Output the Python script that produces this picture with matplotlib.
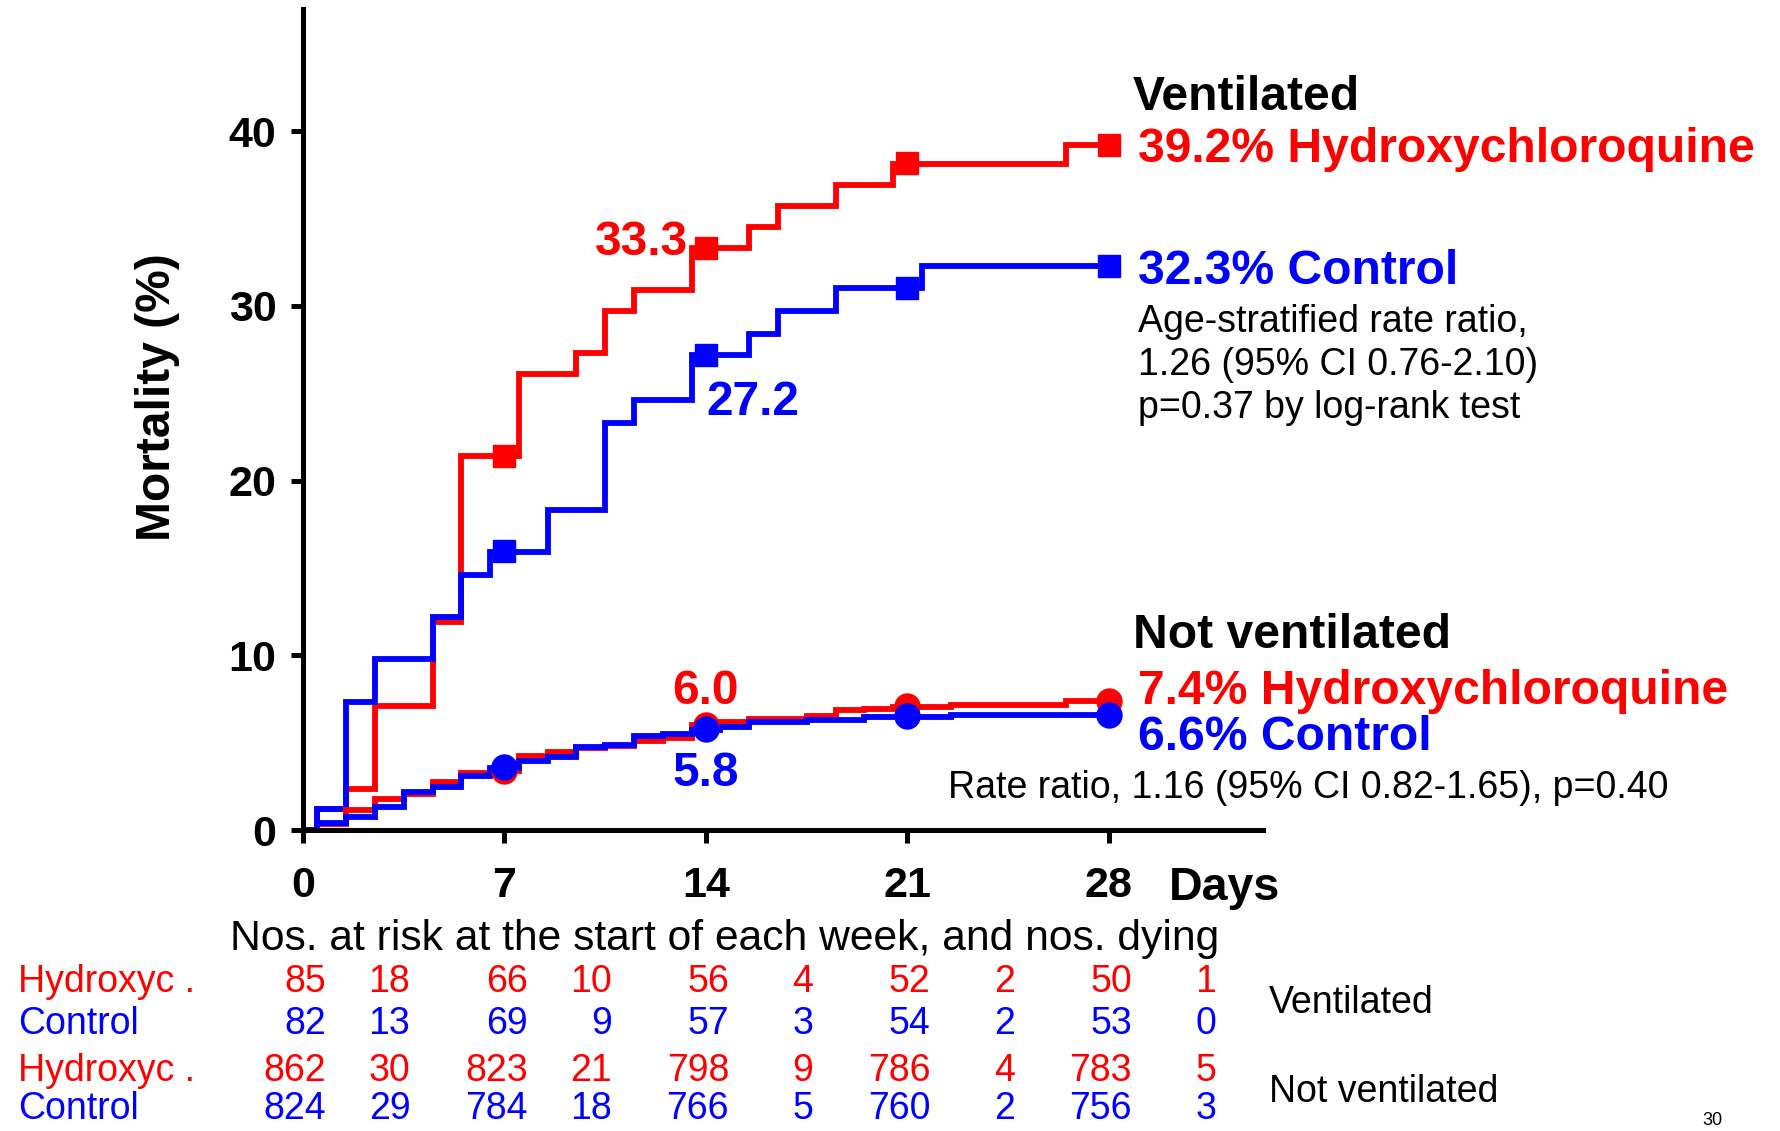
import matplotlib
matplotlib.use('Agg')
from matplotlib import pyplot as plt
from matplotlib import transforms
import numpy as np

plt.rcParams['font.family'] = ['Liberation Sans', 'DejaVu Sans']

RED = '#ff0000'
BLUE = '#0000ff'

# Kaplan-Meier style step curves (days, cumulative mortality %)
vent_hcq_t = [0, 0.5, 1.5, 2.5, 4.5, 5.5, 7.5, 9.5, 10.5, 11.5, 13.5, 15.5, 16.5, 18.5, 20.5, 26.5, 28]
vent_hcq_y = [0, 1.2, 2.35, 7.1, 11.9, 21.4, 26.1, 27.3, 29.7, 30.9, 33.3, 34.5, 35.7, 36.9, 38.1, 39.2, 39.2]
vent_ctl_t = [0, 0.5, 1.5, 2.5, 4.5, 5.5, 6.5, 8.5, 10.5, 11.5, 13.5, 15.5, 16.5, 18.5, 21.5, 28]
vent_ctl_y = [0, 1.2, 7.3, 9.8, 12.2, 14.6, 15.9, 18.3, 23.3, 24.6, 27.2, 28.4, 29.7, 31.0, 32.3, 32.3]
nvent_hcq_t = [0, 0.5, 1.5, 2.5, 3.5, 4.5, 5.5, 6.5, 7.5, 8.5, 9.5, 10.5, 11.5, 12.5, 13.5, 14.5,
               15.5, 17.5, 18.5, 19.5, 20.5, 22.5, 26.5, 28]
nvent_hcq_y = [0, 0.35, 1.15, 1.78, 2.05, 2.74, 3.26, 3.39, 4.21, 4.46, 4.69, 4.79, 5.08, 5.27, 6.03, 6.17,
               6.38, 6.51, 6.85, 6.95, 7.05, 7.15, 7.4, 7.4]
nvent_ctl_t = [0, 0.5, 1.5, 2.5, 3.5, 4.5, 5.5, 6.5, 7.5, 8.5, 9.5, 10.5, 11.5, 12.5, 13.5, 14.5,
               15.5, 17.5, 19.5, 22.5, 28]
nvent_ctl_y = [0, 0.38, 0.77, 1.34, 2.2, 2.49, 3.1, 3.54, 3.93, 4.16, 4.73, 4.89, 5.36, 5.52, 5.75, 5.9,
               6.17, 6.3, 6.45, 6.6, 6.6]

# weekly markers
weeks = [7, 14, 21, 28]
vent_hcq_m = [21.4, 33.3, 38.2, 39.2]
vent_ctl_m = [16.0, 27.2, 31.0, 32.3]
nvent_hcq_m = [3.4, 6.0, 7.1, 7.4]
nvent_ctl_m = [3.6, 5.8, 6.5, 6.6]

# numbers at risk / dying
week_start = [0, 7, 14, 21, 28]
vent_hcq_risk = [85, 66, 56, 52, 50]
vent_hcq_dead = [18, 10, 4, 2, 1]
vent_ctl_risk = [82, 69, 57, 54, 53]
vent_ctl_dead = [13, 9, 3, 2, 0]
nvent_hcq_risk = [862, 823, 798, 786, 783]
nvent_hcq_dead = [30, 21, 9, 4, 5]
nvent_ctl_risk = [824, 784, 766, 760, 756]
nvent_ctl_dead = [29, 18, 5, 2, 3]

W, H = 1780, 1131
fig = plt.figure(figsize=(W / 100, H / 100), dpi=100)
ax = fig.add_axes([303 / W, 1 - 830 / H, (1263 - 303) / W, (830 - 9) / H])


def fx(px):
	return px / W


def fy(py):
	# small shift so that va='center' sits like the reference glyphs
	return 1 - (py + 4) / H


lw = 4.2
ax.step(vent_hcq_t, vent_hcq_y, where='post', color=RED, lw=lw, solid_joinstyle='miter')
ax.step(vent_ctl_t, vent_ctl_y, where='post', color=BLUE, lw=lw, solid_joinstyle='miter')
ax.step(nvent_hcq_t, nvent_hcq_y, where='post', color=RED, lw=lw, solid_joinstyle='miter')
ax.step(nvent_ctl_t, nvent_ctl_y, where='post', color=BLUE, lw=lw, solid_joinstyle='miter')
ax.plot(weeks, vent_hcq_m, 's', color=RED, ms=16)
ax.plot(weeks, vent_ctl_m, 's', color=BLUE, ms=16)
ax.plot(weeks, nvent_hcq_m, 'o', color=RED, ms=18)
ax.plot(weeks, nvent_ctl_m, 'o', color=BLUE, ms=18)

ax.set_xlim(0, 33.35)
ax.set_ylim(0, 47)
for s in ['top', 'right']:
	ax.spines[s].set_visible(False)
for s in ['left', 'bottom']:
	ax.spines[s].set_linewidth(3.6)
ax.set_xticks([0, 7, 14, 21, 28])
ax.set_yticks([0, 10, 20, 30, 40])
ax.tick_params(axis='both', length=9, width=3.6, labelsize=31)
ax.tick_params(axis='x', pad=17)
ax.tick_params(axis='y', pad=10)
for lab in ax.get_xticklabels() + ax.get_yticklabels():
	lab.set_fontweight('bold')

fig.text(fx(157), fy(393), 'Mortality (%)', rotation=90, fontsize=34.5, fontweight='bold',
	ha='center', va='center')
fig.text(fx(1169), fy(884), 'Days', fontsize=33.5, fontweight='bold', ha='left', va='center')

# point labels at day 14
ax.annotate('33.3', (14, vent_hcq_m[1]), xytext=(-13, 4), textcoords='offset points',
	color=RED, fontsize=34.5, fontweight='bold', ha='right', va='center')
ax.annotate('27.2', (14, vent_ctl_m[1]), xytext=(0, -34), textcoords='offset points',
	color=BLUE, fontsize=34.5, fontweight='bold', ha='left', va='center')
ax.annotate('6.0', (14, nvent_hcq_m[1]), xytext=(0, 24), textcoords='offset points',
	color=RED, fontsize=34.5, fontweight='bold', ha='center', va='center')
ax.annotate('5.8', (14, nvent_ctl_m[1]), xytext=(0, -32), textcoords='offset points',
	color=BLUE, fontsize=34.5, fontweight='bold', ha='center', va='center')

# right-hand annotations
big = dict(fontsize=34.6, fontweight='bold', ha='left', va='center')
fig.text(fx(1133), fy(93), 'Ventilated', color='black', **big)
fig.text(fx(1138), fy(145), '39.2% Hydroxychloroquine', color=RED, **big)
fig.text(fx(1138), fy(268), '32.3% Control', color=BLUE, **big)
small = dict(fontsize=27, ha='left', va='center', color='black')
fig.text(fx(1138), fy(318), 'Age-stratified rate ratio,', **small)
fig.text(fx(1138), fy(361), '1.26 (95% CI 0.76-2.10)', **small)
fig.text(fx(1138), fy(404), 'p=0.37 by log-rank test', **small)
fig.text(fx(1133), fy(632), 'Not ventilated', color='black', **big)
fig.text(fx(1138), fy(687), '7.4% Hydroxychloroquine', color=RED, **big)
fig.text(fx(1138), fy(733), '6.6% Control', color=BLUE, **big)
fig.text(fx(1669), fy(784), 'Rate ratio, 1.16 (95% CI 0.82-1.65), p=0.40',
	fontsize=27, ha='right', va='center', color='black')

# table of numbers at risk
fig.text(fx(230), fy(935), 'Nos. at risk at the start of each week, and nos. dying',
	fontsize=30.7, ha='left', va='center')
tr = transforms.blended_transform_factory(ax.transData, fig.transFigure)
rows = [
	('Hydroxyc .', RED, vent_hcq_risk, vent_hcq_dead, 978),
	('Control', BLUE, vent_ctl_risk, vent_ctl_dead, 1020),
	('Hydroxyc .', RED, nvent_hcq_risk, nvent_hcq_dead, 1067),
	('Control', BLUE, nvent_ctl_risk, nvent_ctl_dead, 1105),
]
for name, col, risk, dead, ypx in rows:
	fig.text(fx(18), fy(ypx), name, color=col, fontsize=27, ha='left', va='center')
	for d, r, k in zip(week_start, risk, dead):
		ax.text(d + 0.8, fy(ypx), str(r), transform=tr, color=col, fontsize=27,
			ha='right', va='center', clip_on=False)
		ax.text(d + 3.73, fy(ypx), str(k), transform=tr, color=col, fontsize=27,
			ha='right', va='center', clip_on=False)
fig.text(fx(1269), fy(999), 'Ventilated', fontsize=27, ha='left', va='center')
fig.text(fx(1269), fy(1088), 'Not ventilated', fontsize=27, ha='left', va='center')
fig.text(fx(1702), 2 / H, '30', fontsize=13, ha='left', va='bottom')

fig.savefig('out.png', dpi=100)
